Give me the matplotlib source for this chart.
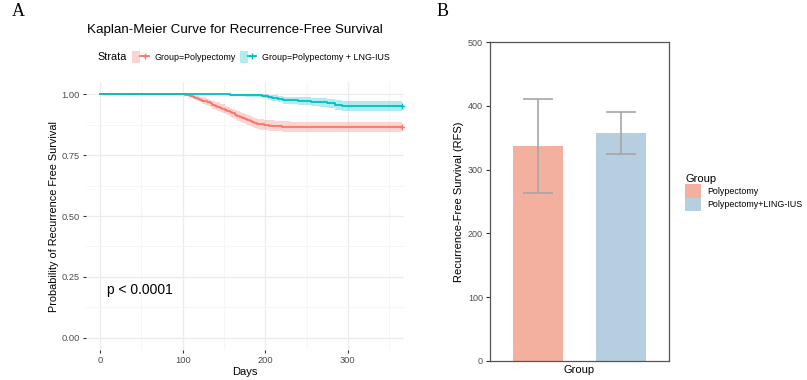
import matplotlib
matplotlib.use("Agg")
import matplotlib.pyplot as plt
from matplotlib.patches import Patch
from matplotlib.lines import Line2D
from matplotlib.legend_handler import HandlerTuple
from matplotlib.ticker import MultipleLocator

plt.rcParams['font.family'] = ['Liberation Sans', 'DejaVu Sans']

# ---------------- data: Kaplan-Meier (panel A) ----------------
red_t = [0, 100, 103, 106, 109, 112, 115, 118, 121, 124, 127, 130, 133, 136, 139,
         142, 145, 148, 151, 154, 157, 160, 163, 166, 169, 172, 175, 178, 181,
         184, 187, 190, 194, 199, 205, 212, 220, 230, 365]
red_s = [1.0, 1.0, 0.998, 0.996, 0.993, 0.990, 0.986, 0.982, 0.978, 0.974, 0.970,
         0.966, 0.962, 0.957, 0.953, 0.949, 0.944, 0.940, 0.935, 0.931, 0.926,
         0.921, 0.916, 0.911, 0.907, 0.902, 0.898, 0.894, 0.890, 0.886, 0.882,
         0.879, 0.876, 0.873, 0.871, 0.869, 0.867, 0.866, 0.866]
red_half = [0.0, 0.0, 0.004, 0.006, 0.008, 0.009, 0.010, 0.011, 0.012, 0.013,
            0.014, 0.015, 0.015, 0.016, 0.016, 0.017, 0.017, 0.018, 0.018, 0.018,
            0.019, 0.019, 0.019, 0.020, 0.020, 0.020, 0.020, 0.021, 0.021, 0.021,
            0.021, 0.021, 0.021, 0.021, 0.021, 0.021, 0.021, 0.021, 0.021]

teal_t = [0, 157, 175, 196, 203, 208, 215, 222, 240, 255, 265, 275, 285, 293, 365]
teal_s = [1.0, 0.997, 0.995, 0.991, 0.987, 0.983, 0.979, 0.975, 0.972, 0.969,
          0.966, 0.962, 0.956, 0.950, 0.950]
teal_half = [0.0, 0.004, 0.006, 0.008, 0.010, 0.012, 0.013, 0.014, 0.015, 0.016,
             0.017, 0.018, 0.019, 0.020, 0.020]

strata_labels = ["Group=Polypectomy", "Group=Polypectomy + LNG-IUS"]
p_text = "p < 0.0001"

# ---------------- data: bar chart (panel B) ----------------
groups = ["Polypectomy", "Polypectomy+LING-IUS"]
rfs_mean = [337, 358]
rfs_lower = [263, 325]
rfs_upper = [410, 391]

RED = "#F8766D"
TEAL = "#00BFC4"
BAR_COLORS = ["#F4B09F", "#B6CFE0"]

W, H = 807, 380
fig = plt.figure(figsize=(W / 100, H / 100), dpi=100)

# ================= Panel A =================
ax1 = fig.add_axes([86 / W, 1 - 350 / H, 318 / W, 268 / H])
ax1.set_xlim(-17, 368)
ax1.set_ylim(-0.05, 1.05)
for s in ax1.spines.values():
    s.set_visible(False)
ax1.xaxis.set_major_locator(MultipleLocator(100))
ax1.xaxis.set_minor_locator(MultipleLocator(50))
ax1.yaxis.set_minor_locator(MultipleLocator(0.125))
ax1.set_yticks([0, 0.25, 0.5, 0.75, 1.0])
ax1.set_yticklabels(["0.00", "0.25", "0.50", "0.75", "1.00"])
ax1.grid(which='major', color='#EBEBEB', lw=0.9)
ax1.grid(which='minor', color='#F4F4F4', lw=0.6)
ax1.set_axisbelow(True)
ax1.tick_params(which='major', length=2.5, width=0.8, color='#333333',
                labelsize=6.7, labelcolor='#4D4D4D', pad=2)
ax1.tick_params(which='minor', length=0)

red_lo = [max(0.0, s - h) for s, h in zip(red_s, red_half)]
red_hi = [min(1.0, s + h) for s, h in zip(red_s, red_half)]
teal_lo = [max(0.0, s - h) for s, h in zip(teal_s, teal_half)]
teal_hi = [min(1.0, s + h) for s, h in zip(teal_s, teal_half)]

ax1.fill_between(red_t, red_lo, red_hi, step='post', color=RED, alpha=0.3, lw=0)
ax1.fill_between(teal_t, teal_lo, teal_hi, step='post', color=TEAL, alpha=0.3, lw=0)
ax1.step(red_t, red_s, where='post', color=RED, lw=1.3)
ax1.step(teal_t, teal_s, where='post', color=TEAL, lw=1.3)
ax1.plot([red_t[-1]], [red_s[-1]], marker='+', color=RED, ms=5, mew=1.0)
ax1.plot([teal_t[-1]], [teal_s[-1]], marker='+', color=TEAL, ms=5, mew=1.0)

ax1.text(8, 0.197, p_text, fontsize=10, va='center', ha='left', color='black')
ax1.set_xlabel("Days", fontsize=8, labelpad=1)
ax1.set_ylabel("Probability of Recurrence Free Survival", fontsize=7.8, labelpad=2)

fig.text(235 / W, 1 - 30 / H, "Kaplan-Meier Curve for Recurrence-Free Survival",
         fontsize=9.6, ha='center', va='center')
fig.text(97 / W, 1 - 57 / H, "Strata", fontsize=7.8, ha='left', va='center')
h_red = (Patch(facecolor=RED, alpha=0.3, lw=0),
         Line2D([], [], color=RED, lw=1.3, marker='+', ms=5))
h_teal = (Patch(facecolor=TEAL, alpha=0.3, lw=0),
          Line2D([], [], color=TEAL, lw=1.3, marker='+', ms=5))
fig.legend([h_red, h_teal], strata_labels, loc='center left',
           bbox_to_anchor=(132 / W, 1 - 57 / H), ncol=2, frameon=False,
           fontsize=6.4, handlelength=1.9, handleheight=1.6, handletextpad=0.6,
           columnspacing=0.45, borderpad=0, borderaxespad=0,
           handler_map={tuple: HandlerTuple(ndivide=None)})

# ================= Panel B =================
ax2 = fig.add_axes([490 / W, 1 - 361 / H, 179 / W, 319 / H])
xpos = [-0.5, 0.5]
bars = ax2.bar(xpos, rfs_mean, width=0.61, color=BAR_COLORS)
err_lo = [m - l for m, l in zip(rfs_mean, rfs_lower)]
err_hi = [u - m for m, u in zip(rfs_mean, rfs_upper)]
ax2.errorbar(xpos, rfs_mean, yerr=[err_lo, err_hi], fmt='none', ecolor='#A6A6A6',
             elinewidth=1.2, capsize=10.5, capthick=1.2)
ax2.set_xlim(-1.09, 1.09)
ax2.set_ylim(0, 500)
ax2.set_yticks([0, 100, 200, 300, 400, 500])
ax2.set_xticks([])
for s in ax2.spines.values():
    s.set_color('#555555')
    s.set_linewidth(0.9)
ax2.tick_params(axis='y', length=3, width=0.8, color='#333333', labelsize=6.5,
                labelcolor='#4D4D4D', pad=2)
ax2.set_xlabel("Group", fontsize=8, labelpad=3)
ax2.set_ylabel("Recurrence-Free Survival (RFS)", fontsize=8, labelpad=3)

fig.legend(bars, groups, loc='upper left', bbox_to_anchor=(685 / W, 1 - 174 / H),
           frameon=False, title="Group", title_fontsize=8, fontsize=6.4,
           handlelength=1.85, handleheight=1.9, labelspacing=0.05,
           handletextpad=0.7, alignment='left', borderpad=0, borderaxespad=0)

# Panel letters
fig.text(12 / W, 1 - 12 / H, "A", fontsize=13, family='Liberation Serif',
         ha='left', va='center')
fig.text(437 / W, 1 - 11 / H, "B", fontsize=13, family='Liberation Serif',
         ha='left', va='center')

fig.savefig("out.png", dpi=100)
